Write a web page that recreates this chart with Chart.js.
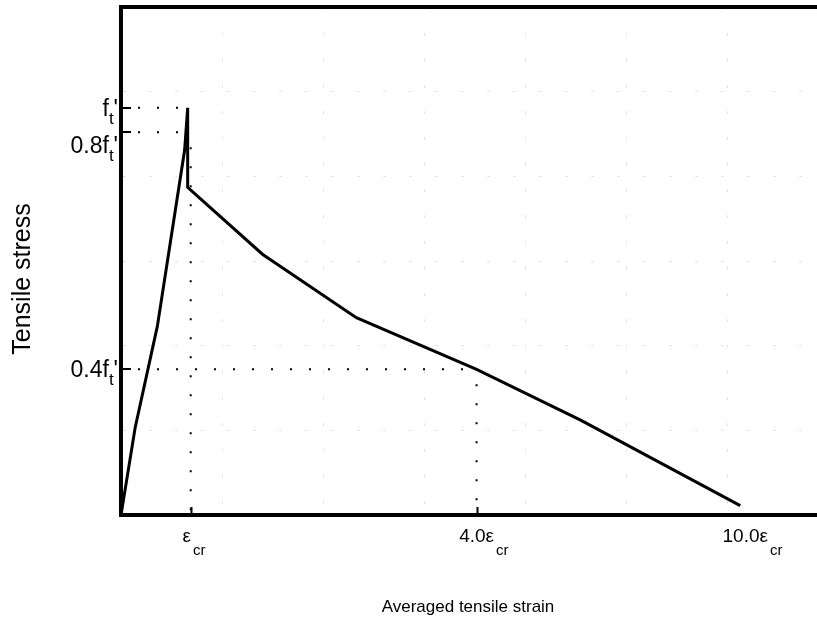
<!DOCTYPE html>
<html>
<head>
<meta charset="utf-8">
<script src="https://cdn.jsdelivr.net/npm/chart.js@4"></script>
<style>
  html, body { margin: 0; padding: 0; background: #fff; }
  #wrap { width: 817px; height: 627px; }
</style>
</head>
<body>
<div id="wrap"><canvas id="tensionChart" width="817" height="627"></canvas></div>
<script>
// curve points, in grid units (schematic diagram, no real scale)
var strain = [0, 0.14, 0.36, 0.63, 0.66, 0.66, 1.40, 2.33, 3.52, 4.55, 6.13];
var stress = [0, 1.03, 2.23, 4.31, 4.81, 3.87, 3.08, 2.33, 1.72, 1.12, 0.11];

// tick positions and labels (main text + subscript)
var xTickValues = [0.69, 3.52, 6.18];
var xTickMain = ["ε", "4.0ε", "10.0ε"];
var xTickSub = ["cr", "cr", "cr"];
var xTickMarked = [true, true, false];

var yTickValues = [4.81, 4.52, 1.72];
var yLabelValues = [4.81, 4.37, 1.72];
var yTickMain = ["f", "0.8f", "0.4f"];
var yTickSub = ["t", "t", "t"];

var xTitle = "Averaged tensile strain";
var yTitle = "Tensile stress";

var FONT = "'Liberation Sans', Arial, sans-serif";
var peakX = strain[4];

function pts(xs, ys) {
    return xs.map(function (x, i) { return { x: x, y: ys[i] }; });
}

function dotted(data, offset) {
    return {
        data: data,
        showLine: true,
        borderColor: "#000",
        borderWidth: 2,
        borderDash: [2, 17],
        borderDashOffset: offset,
        pointRadius: 0,
        fill: false,
        order: 1
    };
}

var datasets = [
    {
        data: pts(strain, stress),
        showLine: true,
        borderColor: "#000",
        borderWidth: 3,
        pointRadius: 0,
        fill: false,
        order: 0
    },
    dotted([{ x: 0, y: yTickValues[0] }, { x: peakX, y: yTickValues[0] }], 2),
    dotted([{ x: 0, y: yTickValues[1] }, { x: peakX, y: yTickValues[1] }], 2),
    dotted([{ x: xTickValues[0], y: yTickValues[1] }, { x: xTickValues[0], y: 0 }], 4),
    dotted([{ x: 0, y: yTickValues[2] }, { x: xTickValues[1], y: yTickValues[2] }], 2),
    dotted([{ x: xTickValues[1], y: yTickValues[2] }, { x: xTickValues[1], y: 0 }], 4)
];

// labels with subscripts, tick marks and axis titles
var labelPlugin = {
    id: "labels",
    afterDraw: function (chart) {
        var ctx = chart.ctx;
        var xs = chart.scales.x, ys = chart.scales.y;
        var area = chart.chartArea;
        ctx.save();
        ctx.fillStyle = "#000";
        ctx.strokeStyle = "#000";

        // inward tick marks
        ctx.lineWidth = 2;
        xTickValues.forEach(function (v, i) {
            if (!xTickMarked[i]) return;
            var px = Math.round(xs.getPixelForValue(v)) + 0.5;
            ctx.beginPath();
            ctx.moveTo(px, area.bottom);
            ctx.lineTo(px, area.bottom - 8);
            ctx.stroke();
        });
        yTickValues.forEach(function (v) {
            var py = Math.round(ys.getPixelForValue(v));
            ctx.beginPath();
            ctx.moveTo(area.left, py);
            ctx.lineTo(area.left + 10, py);
            ctx.stroke();
        });

        // x tick labels
        ctx.textBaseline = "alphabetic";
        ctx.textAlign = "left";
        xTickValues.forEach(function (v, i) {
            var px = xs.getPixelForValue(v);
            ctx.font = "19px " + FONT;
            var w = ctx.measureText(xTickMain[i]).width;
            var x0 = px - w / 2 - (i === 0 ? 4 : 0);
            ctx.fillText(xTickMain[i], x0, 542);
            ctx.font = "15px " + FONT;
            ctx.fillText(xTickSub[i], x0 + w + 2, 555);
        });

        // y tick labels, right aligned against the axis
        yTickValues.forEach(function (v, i) {
            var py = ys.getPixelForValue(yLabelValues[i]);
            ctx.font = "23px " + FONT;
            var wMain = ctx.measureText(yTickMain[i]).width;
            var wPrime = ctx.measureText("'").width;
            ctx.font = "17px " + FONT;
            var wSub = ctx.measureText(yTickSub[i]).width;
            var right = area.left - 3;
            var x0 = right - wPrime - wSub - wMain;
            ctx.font = "23px " + FONT;
            ctx.fillText(yTickMain[i], x0, py + 8);
            ctx.fillText("'", right - wPrime, py + 8);
            ctx.font = "17px " + FONT;
            ctx.fillText(yTickSub[i], x0 + wMain, py + 16);
        });

        // axis titles
        ctx.textAlign = "center";
        ctx.textBaseline = "middle";
        ctx.font = "17px " + FONT;
        ctx.fillText(xTitle, 468, 607);
        ctx.translate(23, 279);
        ctx.rotate(-Math.PI / 2);
        ctx.font = "25px " + FONT;
        ctx.fillText(yTitle, 0, 0);
        ctx.restore();
    }
};

var gridStyle = { color: "#e2e2e2", lineWidth: 1, drawTicks: false };

var ctx = document.getElementById("tensionChart").getContext("2d");
var chart = new Chart(ctx, {
    type: "scatter",
    data: { datasets: datasets },
    options: {
        responsive: false,
        animation: false,
        events: [],
        layout: { padding: 0 },
        plugins: { legend: { display: false }, tooltip: { enabled: false } },
        scales: {
            x: {
                type: "linear",
                position: "bottom",
                min: 0,
                max: 6.89,
                ticks: { stepSize: 1, display: false },
                grid: gridStyle,
                border: { display: true, color: "#000", width: 4, dash: [3, 23] },
                afterFit: function (scale) { scale.height = 112; }
            },
            x2: {
                type: "linear",
                position: "top",
                min: 0,
                max: 6.89,
                ticks: { display: false },
                grid: { display: false, drawTicks: false },
                border: { display: true, color: "#000", width: 4 },
                afterFit: function (scale) { scale.height = 7; }
            },
            y: {
                type: "linear",
                min: 0,
                max: 6,
                ticks: { stepSize: 1, display: false },
                grid: gridStyle,
                border: { display: true, color: "#000", width: 4, dash: [3, 23] },
                afterFit: function (scale) { scale.width = 121; }
            }
        }
    },
    plugins: [labelPlugin]
});
</script>
</body>
</html>
